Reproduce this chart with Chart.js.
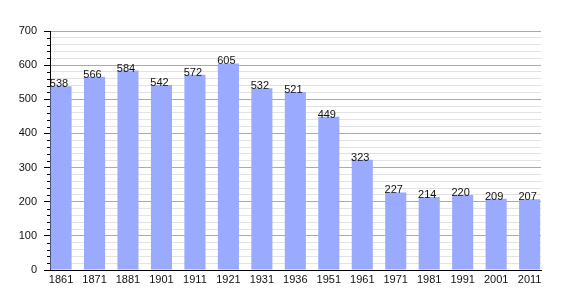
<!DOCTYPE html>
<html>
<head>
<meta charset="utf-8">
<script src="https://cdn.jsdelivr.net/npm/chart.js@4/dist/chart.umd.min.js"></script>
<style>
html,body{margin:0;padding:0;background:#fff;}
#wrap{width:570px;height:300px;}
</style>
</head>
<body>
<div id="wrap"><canvas id="c" width="570" height="300"></canvas></div>
<script>
const years = ['1861','1871','1881','1901','1911','1921','1931','1936','1951','1961','1971','1981','1991','2001','2011'];
const population = [538,566,584,542,572,605,532,521,449,323,227,214,220,209,207];
const yMin = 0, yMax = 700, yMinorStep = 20, yMajorStep = 100;

const FONT = "'Liberation Sans', Arial, sans-serif";
const points = population.map((v, i) => ({x: i, y: v}));

const valueLabels = {
  id: 'valueLabels',
  afterDatasetsDraw(chart) {
    const ctx = chart.ctx;
    const meta = chart.getDatasetMeta(0);
    ctx.save();
    ctx.font = '11px ' + FONT;
    ctx.fillStyle = '#111';
    ctx.textAlign = 'center';
    ctx.textBaseline = 'alphabetic';
    meta.data.forEach((bar, i) => {
      ctx.fillText(String(population[i]), bar.x - 2, bar.y + 1);
    });
    ctx.restore();
  }
};

const minorTicks = {
  id: 'minorTicks',
  afterDraw(chart) {
    const ys = chart.scales.y;
    const ctx = chart.ctx;
    ctx.save();
    ctx.strokeStyle = '#000';
    ctx.lineWidth = 1;
    ctx.beginPath();
    for (let v = yMin; v <= yMax; v += yMinorStep) {
      if (v % yMajorStep === 0) continue;
      const py = Math.round(ys.getPixelForValue(v)) + 0.5;
      ctx.moveTo(ys.right - 3, py);
      ctx.lineTo(ys.right, py);
    }
    ctx.stroke();
    ctx.restore();
  }
};

new Chart(document.getElementById('c'), {
  type: 'bar',
  data: {
    datasets: [{
      data: points,
      backgroundColor: '#99aaff',
      borderWidth: 0,
      barPercentage: 0.63,
      categoryPercentage: 1
    }]
  },
  options: {
    responsive: false,
    animation: false,
    events: [],
    layout: {padding: {top: 31, right: 29, bottom: 0, left: 0}},
    plugins: {legend: {display: false}, tooltip: {enabled: false}},
    scales: {
      x: {
        type: 'linear',
        offset: false,
        min: -0.33,
        max: 14.34,
        afterFit(s) { s.height = 30; },
        grid: {display: false, drawTicks: false, offset: false},
        border: {display: true, color: '#000', width: 1},
        ticks: {
          stepSize: 1,
          includeBounds: false,
          autoSkip: false,
          maxRotation: 0,
          padding: 3,
          color: '#111',
          font: {family: FONT, size: 11},
          callback: (v) => (Number.isInteger(v) && v >= 0 && v < years.length) ? years[v] : ''
        }
      },
      y: {
        min: yMin,
        max: yMax,
        afterFit(s) { s.width = 50; },
        border: {display: true, color: '#000', width: 1},
        grid: {
          color: (c) => (c.tick && c.tick.value % yMajorStep === 0) ? '#aaaaaa' : '#e2e2e2',
          tickColor: (c) => (c.tick && c.tick.value % yMajorStep === 0) ? '#000' : 'rgba(0,0,0,0)',
          tickLength: 6,
          lineWidth: 1
        },
        ticks: {
          stepSize: yMinorStep,
          autoSkip: false,
          padding: 7,
          color: '#111',
          font: {family: FONT, size: 11},
          callback: (v) => (v % yMajorStep === 0) ? String(v) : ''
        }
      }
    }
  },
  plugins: [valueLabels, minorTicks]
});
</script>
</body>
</html>
